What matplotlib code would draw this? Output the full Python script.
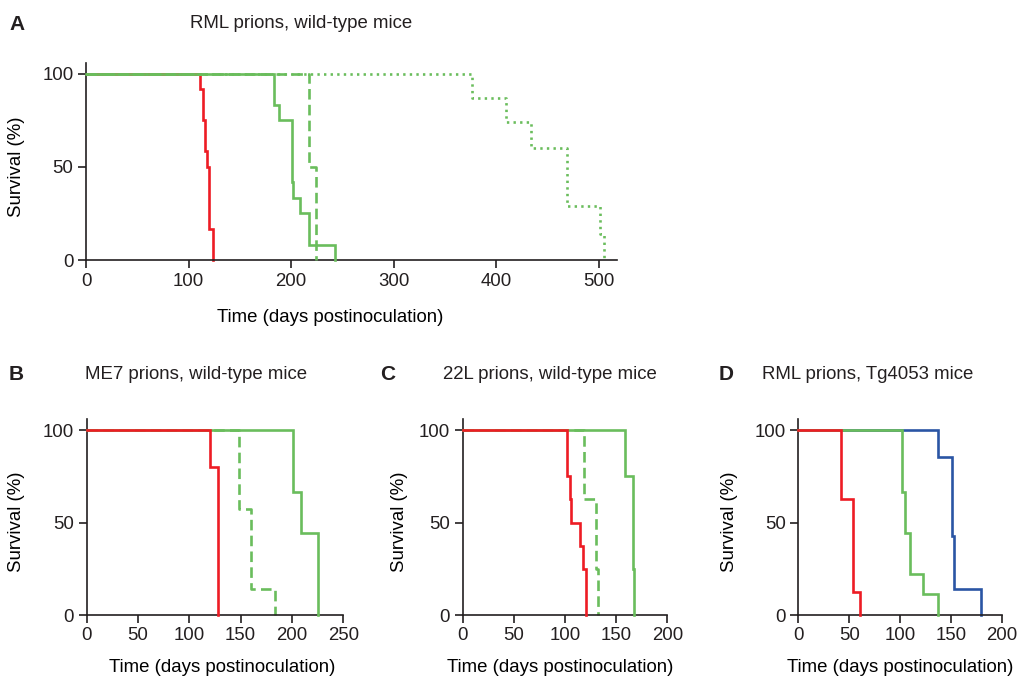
import matplotlib
matplotlib.use("Agg")
import matplotlib.pyplot as plt

RED, GREEN, BLUE = "#ED1C24", "#6ABD5C", "#2A55A4"
INK = "#231F20"

# panel A: RML prions, wild-type mice
a_red_t = [0, 111, 114, 116, 118, 120, 124]
a_red_s = [100, 91.7, 75, 58.3, 50, 16.7, 0]
a_grn_t = [0, 183, 188, 201, 202, 209, 218, 243]
a_grn_s = [100, 83.3, 75, 41.7, 33.3, 25, 8.3, 0]
a_dash_t = [0, 218, 224]
a_dash_s = [100, 50, 0]
a_dot_t = [0, 377, 410, 434, 469, 501, 505]
a_dot_s = [100, 87, 74, 60, 29, 14, 0]

# panel B: ME7 prions, wild-type mice
b_red_t = [0, 120, 128]
b_red_s = [100, 80, 0]
b_grn_t = [0, 201, 209, 225]
b_grn_s = [100, 66.7, 44.4, 0]
b_dash_t = [0, 148, 160, 183]
b_dash_s = [100, 57.1, 14.3, 0]

# panel C: 22L prions, wild-type mice
c_red_t = [0, 102, 105, 106, 115, 118, 121]
c_red_s = [100, 75, 62.5, 50, 37.5, 25, 0]
c_grn_t = [0, 159, 166, 167]
c_grn_s = [100, 75, 25, 0]
c_dash_t = [0, 119, 130, 132]
c_dash_s = [100, 62.5, 25, 0]

# panel D: RML prions, Tg4053 mice
d_red_t = [0, 42, 54, 61]
d_red_s = [100, 62.5, 12.5, 0]
d_grn_t = [0, 102, 105, 110, 123, 137]
d_grn_s = [100, 66.7, 44.4, 22.2, 11.1, 0]
d_blu_t = [0, 137, 151, 153, 180]
d_blu_s = [100, 85.7, 42.9, 14.3, 0]

plt.rcParams["font.family"] = ["Liberation Sans", "DejaVu Sans"]
plt.rcParams["font.size"] = 13.5
plt.rcParams["text.color"] = INK

W, H = 1017, 681
FS = 13.4
fig = plt.figure(figsize=(W / 100, H / 100), dpi=100)


def px_axes(x0, x1, y_top, y0):
    # pixel box -> figure fractions
    return fig.add_axes([x0 / W, 1 - y0 / H, (x1 - x0) / W, (y0 - y_top) / H])


def style(ax, xmax, xticks, xlab_px, ylab_px):
    ax.set_xlim(0, xmax)
    ax.set_ylim(0, 106)
    ax.set_xticks(xticks)
    ax.set_yticks([0, 50, 100])
    for s in ("top", "right"):
        ax.spines[s].set_visible(False)
    for s in ("left", "bottom"):
        ax.spines[s].set_linewidth(1.2)
        ax.spines[s].set_color(INK)
    ax.tick_params(direction="out", length=6, width=1.2, color=INK,
                   labelcolor=INK, labelsize=FS, pad=3)
    ax.set_xlabel("Time (days postinoculation)", fontsize=FS)
    ax.set_ylabel("Survival (%)", fontsize=FS)
    ax.xaxis.set_label_coords(xlab_px[0] / W, 1 - xlab_px[1] / H, transform=fig.transFigure)
    ax.yaxis.set_label_coords(ylab_px[0] / W, 1 - ylab_px[1] / H, transform=fig.transFigure)


def curve(ax, t, s, color, ls="-", z=2):
    ax.step(t, s, where="post", color=color, lw=1.9, ls=ls, zorder=z, clip_on=False,
            solid_joinstyle="miter")


DASH = (0, (4, 2))
DOT = (0, (0.9, 1.6))

# A
axA = px_axes(86, 617, 62.7, 260)
curve(axA, a_red_t, a_red_s, RED, z=2)
curve(axA, a_dot_t, a_dot_s, GREEN, DOT, z=3)
curve(axA, a_dash_t, a_dash_s, GREEN, DASH, z=4)
curve(axA, a_grn_t, a_grn_s, GREEN, z=5)
style(axA, 518, [0, 100, 200, 300, 400, 500], (330, 309), (25, 167))

# B
axB = px_axes(86.7, 343.3, 419, 615)
curve(axB, b_dash_t, b_dash_s, GREEN, DASH, z=2)
curve(axB, b_grn_t, b_grn_s, GREEN, z=3)
curve(axB, b_red_t, b_red_s, RED, z=4)
style(axB, 250, [0, 50, 100, 150, 200, 250], (222, 659), (25, 522))

# C
axC = px_axes(462.7, 667.3, 419, 615)
curve(axC, c_dash_t, c_dash_s, GREEN, DASH, z=2)
curve(axC, c_grn_t, c_grn_s, GREEN, z=3)
curve(axC, c_red_t, c_red_s, RED, z=4)
style(axC, 200, [0, 50, 100, 150, 200], (560, 659), (408, 522))

# D
axD = px_axes(798.3, 1001.7, 419, 615)
curve(axD, d_blu_t, d_blu_s, BLUE, z=2)
curve(axD, d_grn_t, d_grn_s, GREEN, z=3)
curve(axD, d_red_t, d_red_s, RED, z=4)
style(axD, 200, [0, 50, 100, 150, 200], (900, 659), (738, 522))

# panel letters and titles
for letter, lx, tx, y, title in [
    ("A", 9, 190, 24, "RML prions, wild-type mice"),
    ("B", 9, 85, 375, "ME7 prions, wild-type mice"),
    ("C", 380, 443, 375, "22L prions, wild-type mice"),
    ("D", 719, 762, 375, "RML prions, Tg4053 mice"),
]:
    fig.text(lx / W, 1 - y / H, letter, fontsize=15, fontweight="bold", va="center", ha="left")
    fig.text(tx / W, 1 - y / H, title, fontsize=FS, va="center", ha="left")

fig.savefig("out.png", dpi=100, facecolor="white")
